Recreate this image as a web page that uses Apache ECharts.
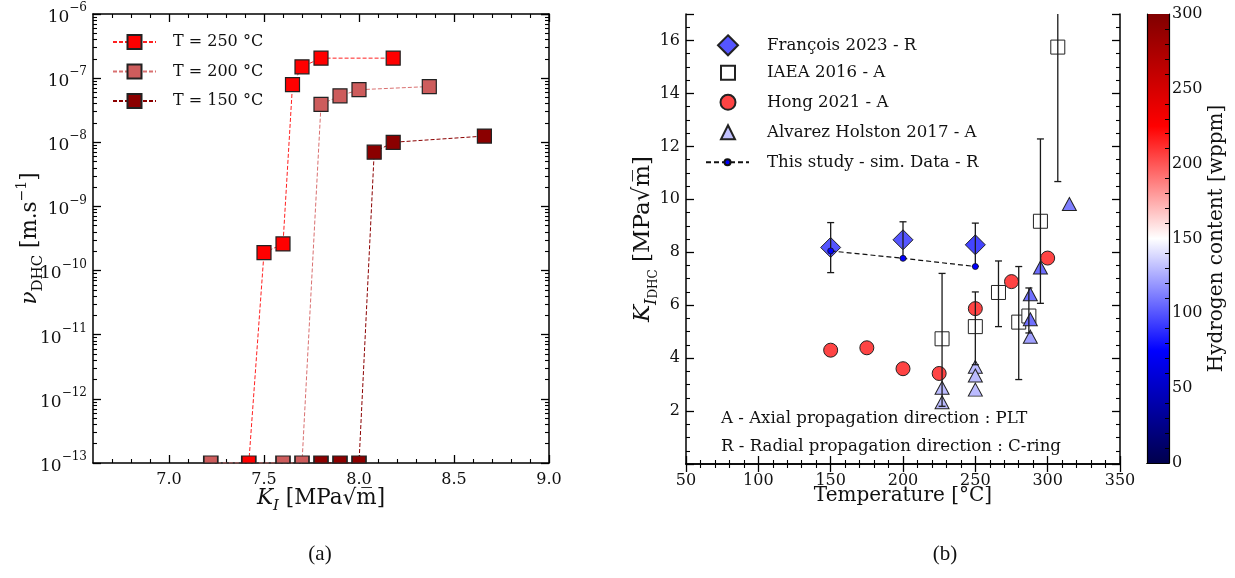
<!DOCTYPE html>
<html><head><meta charset="utf-8">
<script src="https://cdn.jsdelivr.net/npm/echarts@6/dist/echarts.min.js"></script>
<style>html,body{margin:0;padding:0;background:#fff}#c{width:1235px;height:578px}</style>
</head><body><div id="c"></div>
<script>
// ---------- Panel (a): crack velocity vs K_I ----------
const k250 = [7.42, 7.50, 7.60, 7.65, 7.70, 7.80, 8.18];
const v250 = [1e-13, 1.9e-10, 2.6e-10, 7.9e-8, 1.5e-7, 2.05e-7, 2.05e-7];
const k200 = [7.22, 7.60, 7.70, 7.80, 7.90, 8.00, 8.37];
const v200 = [1e-13, 1e-13, 1e-13, 3.9e-8, 5.3e-8, 6.6e-8, 7.4e-8];
const k150 = [7.80, 7.90, 8.00, 8.08, 8.18, 8.66];
const v150 = [1e-13, 1e-13, 1e-13, 7.0e-9, 1.0e-8, 1.25e-8];
const seriesNamesA = ['T = 250 °C', 'T = 200 °C', 'T = 150 °C'];
const kTicks = [7.0, 7.5, 8.0, 8.5, 9.0];
const vFloor = 1e-13;

// ---------- Panel (b): K_IDHC vs temperature ----------
const fT = [150, 200, 250];
const fK = [8.18, 8.47, 8.28];
const fLo = [7.23, 7.78, 7.47];
const fHi = [9.12, 9.15, 9.10];
const fH = [100, 100, 95];

const iT = [227, 250, 266, 280, 287, 295, 307];
const iK = [4.73, 5.19, 6.48, 5.36, 5.59, 9.17, 15.75];
const iLo = [2.18, 3.75, 5.19, 3.19, 4.95, 6.07, 10.67];
const iHi = [7.20, 6.50, 7.67, 7.46, 6.65, 12.28, 18.0];

const hT = [150, 175, 200, 225, 250, 275, 300];
const hK = [4.30, 4.39, 3.60, 3.42, 5.87, 6.89, 7.78];
const hH = [205, 205, 205, 205, 205, 205, 205];

const aT = [227, 227, 250, 250, 250, 288, 288, 288, 295, 315];
const aK = [2.88, 2.33, 3.67, 3.34, 2.81, 6.41, 5.47, 4.81, 7.42, 9.82];
const aH = [130, 130, 130, 130, 130, 108, 108, 122, 107, 112];

const sT = [150, 200, 250];
const sK = [8.05, 7.77, 7.46];

const seriesNamesB = ['François 2023 - R', 'IAEA 2016 - A', 'Hong 2021 - A', 'Alvarez Holston 2017 - A', 'This study - sim. Data - R'];
const legendH = [100, null, 205, 132];
const cbMax = 300;
const yMaxB = 17;

// ---------- helpers ----------
function seismic(v) {
  const t = Math.max(0, Math.min(1, v / cbMax));
  let r, g, b;
  if (t < 0.25) { r = 0; g = 0; b = 0.3 + 0.7 * t / 0.25; }
  else if (t < 0.5) { const s = (t - 0.25) / 0.25; r = s; g = s; b = 1; }
  else if (t < 0.75) { const s = (t - 0.5) / 0.25; r = 1; g = 1 - s; b = 1 - s; }
  else { const s = (t - 0.75) / 0.25; r = 1 - 0.5 * s; g = 0; b = 0; }
  return 'rgb(' + Math.round(r * 255) + ',' + Math.round(g * 255) + ',' + Math.round(b * 255) + ')';
}
const FONT = 'DejaVu Serif';
const INK = '#111';
const lineAx = { show: true, lineStyle: { color: '#000', width: 1.5 } };

function lineSeriesA(name, ks, vs, color, lineColor) {
  return {
    name, type: 'line', xAxisIndex: 0, yAxisIndex: 0, symbol: 'rect', symbolSize: 14,
    lineStyle: { type: [4, 2], width: 1, color: lineColor },
    itemStyle: { color, borderColor: '#222', borderWidth: 1.2 },
    data: ks.map((k, i) => vs[i] === vFloor
      ? { value: [k, vs[i]], symbolSize: [14, 7], symbolOffset: [0, -3.5] }
      : { value: [k, vs[i]] }),
    z: 3
  };
}
function errSeries(T, lo, hi) {
  return {
    type: 'custom', xAxisIndex: 4, yAxisIndex: 4, silent: true, z: 5,
    encode: { x: 0, y: [1, 2] },
    data: T.map((t, i) => [t, lo[i], hi[i]]),
    renderItem: function (params, api) {
      const x = api.value(0), l = api.value(1), h = api.value(2);
      const top = api.coord([x, Math.min(h, yMaxB)]);
      const bot = api.coord([x, l]);
      const hw = 3.5;
      const style = { stroke: '#1a1a1a', lineWidth: 1.3 };
      const ch = [
        { type: 'line', shape: { x1: top[0], y1: top[1], x2: bot[0], y2: bot[1] }, style },
        { type: 'line', shape: { x1: bot[0] - hw, y1: bot[1], x2: bot[0] + hw, y2: bot[1] }, style }
      ];
      if (h <= yMaxB) ch.push({ type: 'line', shape: { x1: top[0] - hw, y1: top[1], x2: top[0] + hw, y2: top[1] }, style });
      return { type: 'group', children: ch };
    }
  };
}
function scatterB(name, T, K, H, symbol, size, legendColor, fixedColor) {
  return {
    name, type: 'scatter', xAxisIndex: 4, yAxisIndex: 4, symbol, symbolSize: size,
    itemStyle: { color: legendColor, borderColor: '#222', borderWidth: 1, opacity: 1 },
    data: T.map((t, i) => ({ value: [t, K[i]], itemStyle: { color: fixedColor || seismic(H[i]) } })),
    z: 3
  };
}
function legendB(name, size, iconW, centerY) {
  // icon centred at x = 727, text starting at x = 766
  const left = 727 - iconW / 2;
  const pad = 766 - (left + iconW + 5);
  return { data: [name], left, top: centerY - 10, itemWidth: iconW, itemHeight: size, padding: 0,
    textStyle: { fontSize: 16.6, lineHeight: 20, padding: [0, 0, 0, pad], color: INK, fontFamily: FONT } };
}

// minor tick positions
const kMinor = [];
for (let i = 67; i < 90; i++) if (i % 5 !== 0) kMinor.push(i / 10);
const logMinor = [];
for (let n = -13; n < -6; n++) for (let k = 2; k <= 9; k++) logMinor.push(n + Math.log10(k));

function richSet(base) {
  const lh = Math.round(base * 1.45);
  return {
    i: { fontStyle: 'italic', fontSize: base, lineHeight: lh, fontFamily: FONT, color: INK },
    sub: { fontStyle: 'italic', fontSize: base * 0.7, lineHeight: base * 0.8, verticalAlign: 'bottom', fontFamily: FONT, color: INK },
    subu: { fontSize: base * 0.7, lineHeight: base * 0.8, verticalAlign: 'bottom', fontFamily: FONT, color: INK },
    s2: { fontSize: base * 0.52, lineHeight: base * 0.38, verticalAlign: 'bottom', fontFamily: FONT, color: INK },
    sup: { fontSize: base * 0.65, lineHeight: base * 0.7, verticalAlign: 'top', fontFamily: FONT, color: INK },
    n: { fontSize: base, lineHeight: lh, fontFamily: FONT, color: INK }
  };
}
const SQRT_M = '√m\u0305';

const option = {
  animation: false,
  backgroundColor: '#fff',
  textStyle: { fontFamily: FONT, color: INK },
  grid: [
    { left: 93, top: 14, width: 456, height: 449, outerBoundsMode: 'none' },
    { left: 686, top: 14, width: 434, height: 450, outerBoundsMode: 'none' },
    { left: 1147, top: 14, width: 22, height: 449, outerBoundsMode: 'none' }
  ],
  xAxis: [
    { gridIndex: 0, type: 'value', min: 6.6, max: 9.0, position: 'bottom', axisLine: lineAx,
      axisTick: { inside: true, length: 8, customValues: kTicks, lineStyle: { color: '#000', width: 1.3 } },
      axisLabel: { customValues: kTicks, formatter: v => v.toFixed(1), fontSize: 16, color: INK, margin: 9 },
      splitLine: { show: false },
      name: '{i|K}{sub|I}{n| [MPa' + SQRT_M + ']}', nameLocation: 'middle', nameGap: 20, nameMoveOverlap: false,
      nameTextStyle: { fontSize: 21.5, rich: richSet(21.5) } },
    { gridIndex: 0, type: 'value', min: 6.6, max: 9.0, position: 'top', axisLine: lineAx,
      axisTick: { inside: true, length: 8, customValues: kTicks, lineStyle: { color: '#000', width: 1.3 } },
      axisLabel: { show: false }, splitLine: { show: false } },
    { gridIndex: 0, type: 'value', min: 6.6, max: 9.0, position: 'bottom', axisLine: { show: false },
      axisTick: { inside: true, length: 4, customValues: kMinor, lineStyle: { color: '#000', width: 1.1 } },
      axisLabel: { show: false }, splitLine: { show: false } },
    { gridIndex: 0, type: 'value', min: 6.6, max: 9.0, position: 'top', axisLine: { show: false },
      axisTick: { inside: true, length: 4, customValues: kMinor, lineStyle: { color: '#000', width: 1.1 } },
      axisLabel: { show: false }, splitLine: { show: false } },
    // panel b
    { gridIndex: 1, type: 'value', min: 50, max: 350, interval: 50, position: 'bottom', axisLine: lineAx,
      axisTick: { inside: true, length: 8, lineStyle: { color: '#000', width: 1.3 } },
      minorTick: { show: true, splitNumber: 5, length: 4, lineStyle: { color: '#000', width: 1.1 } },
      axisLabel: { fontSize: 16, color: INK, margin: 9 }, splitLine: { show: false },
      name: 'Temperature [°C]', nameLocation: 'middle', nameGap: 22, nameMoveOverlap: false,
      nameTextStyle: { fontSize: 20, color: INK } },
    { gridIndex: 1, type: 'value', min: 50, max: 350, interval: 50, position: 'top', axisLine: lineAx,
      axisTick: { inside: true, length: 8, lineStyle: { color: '#000', width: 1.3 } },
      minorTick: { show: true, splitNumber: 5, length: 4, lineStyle: { color: '#000', width: 1.1 } },
      axisLabel: { show: false }, splitLine: { show: false } },
    // colorbar
    { gridIndex: 2, type: 'category', data: [''], position: 'bottom', z: 10, axisLine: { show: true, lineStyle: { color: '#000', width: 1.2 } },
      axisTick: { show: false }, axisLabel: { show: false } },
    { gridIndex: 2, type: 'category', data: [''], position: 'top', z: 10, axisLine: { show: true, lineStyle: { color: '#000', width: 1.2 } },
      axisTick: { show: false }, axisLabel: { show: false } }
  ],
  yAxis: [
    { gridIndex: 0, type: 'log', logBase: 10, min: 1e-13, max: 1e-6, splitNumber: 7, position: 'left', axisLine: lineAx,
      axisTick: { inside: true, length: 8, lineStyle: { color: '#000', width: 1.3 } },
      axisLabel: { fontSize: 16, color: INK, margin: 6,
        formatter: v => { const e = Math.round(Math.log10(v)); return '{b|10}{p|' + (e < 0 ? '−' : '') + Math.abs(e) + '}'; },
        rich: { b: { fontSize: 17, lineHeight: 24, verticalAlign: 'bottom', fontFamily: FONT, color: INK },
                p: { fontSize: 12, lineHeight: 15, verticalAlign: 'top', fontFamily: FONT, color: INK } } },
      splitLine: { show: false },
      name: '{i|ν}{subu|DHC}{n| [m.s}{sup|−1}{n|]}', nameLocation: 'middle', nameGap: 47, nameRotate: 90, nameMoveOverlap: false,
      nameTextStyle: { fontSize: 21.5, rich: richSet(21.5) } },
    { gridIndex: 0, type: 'log', logBase: 10, min: 1e-13, max: 1e-6, splitNumber: 7, position: 'right', axisLine: lineAx,
      axisTick: { inside: true, length: 8, lineStyle: { color: '#000', width: 1.3 } },
      axisLabel: { show: false }, splitLine: { show: false } },
    { gridIndex: 0, type: 'value', min: -13, max: -6, position: 'left', axisLine: { show: false },
      axisTick: { inside: true, length: 4, customValues: logMinor, lineStyle: { color: '#000', width: 1.1 } },
      axisLabel: { show: false }, splitLine: { show: false } },
    { gridIndex: 0, type: 'value', min: -13, max: -6, position: 'right', axisLine: { show: false },
      axisTick: { inside: true, length: 4, customValues: logMinor, lineStyle: { color: '#000', width: 1.1 } },
      axisLabel: { show: false }, splitLine: { show: false } },
    // panel b
    { gridIndex: 1, type: 'value', min: 0, max: yMaxB, interval: 2, position: 'left', axisLine: lineAx,
      axisTick: { inside: true, length: 8, lineStyle: { color: '#000', width: 1.3 } },
      minorTick: { show: true, splitNumber: 4, length: 4, lineStyle: { color: '#000', width: 1.1 } },
      axisLabel: { fontSize: 16, color: INK, margin: 6, showMinLabel: false, showMaxLabel: false },
      splitLine: { show: false },
      name: '{i|K}{sub|I}{s2|DHC}{n| [MPa' + SQRT_M + ']}', nameLocation: 'middle', nameGap: 26, nameRotate: 90, nameMoveOverlap: false,
      nameTextStyle: { fontSize: 23, rich: richSet(23) } },
    { gridIndex: 1, type: 'value', min: 0, max: yMaxB, interval: 2, position: 'right', axisLine: lineAx,
      axisTick: { inside: true, length: 8, lineStyle: { color: '#000', width: 1.3 } },
      minorTick: { show: true, splitNumber: 4, length: 4, lineStyle: { color: '#000', width: 1.1 } },
      axisLabel: { show: false }, splitLine: { show: false } },
    // colorbar
    { gridIndex: 2, type: 'value', min: 0, max: cbMax, interval: 50, position: 'right', z: 10,
      axisLine: { show: true, lineStyle: { color: '#000', width: 1.2 } },
      axisTick: { inside: true, length: 7, lineStyle: { color: '#000', width: 1.2 } },
      minorTick: { show: true, splitNumber: 5, length: 4, lineStyle: { color: '#000', width: 1 } },
      axisLabel: { fontSize: 16, color: INK, margin: 3 }, splitLine: { show: false },
      name: 'Hydrogen content [wppm]', nameLocation: 'middle', nameGap: 38, nameRotate: 90, nameMoveOverlap: false,
      nameTextStyle: { fontSize: 20, color: INK } },
    { gridIndex: 2, type: 'value', min: 0, max: cbMax, position: 'left', z: 10,
      axisLine: { show: true, lineStyle: { color: '#000', width: 1.2 } },
      axisTick: { show: false }, axisLabel: { show: false }, splitLine: { show: false } }
  ],
  legend: [
    { data: seriesNamesA, orient: 'vertical', left: 112, top: 32, itemWidth: 43, itemHeight: 17.5, itemGap: 9.5, padding: 0,
      textStyle: { fontSize: 16, lineHeight: 20, padding: [0, 0, 0, 12], color: INK, fontFamily: FONT } },
    legendB(seriesNamesB[0], 20, 20, 44.3),
    legendB(seriesNamesB[1], 14, 14, 72.7),
    legendB(seriesNamesB[2], 15, 15, 102.3),
    legendB(seriesNamesB[3], 14, 14, 132.3),
    { data: [seriesNamesB[4]], left: 705, top: 152.3, itemWidth: 43, itemHeight: 7.5, padding: 0,
      textStyle: { fontSize: 16.6, lineHeight: 20, padding: [0, 0, 0, 13], color: INK, fontFamily: FONT } }
  ],
  series: [
    lineSeriesA(seriesNamesA[2], k150, v150, '#8b0000', '#8b0000'),
    lineSeriesA(seriesNamesA[1], k200, v200, '#cd5c5c', '#d97070'),
    lineSeriesA(seriesNamesA[0], k250, v250, '#ff0000', '#ff2020'),
    scatterB(seriesNamesB[2], hT, hK, hH, 'circle', 14, seismic(legendH[2])),
    scatterB(seriesNamesB[1], iT, iK, null, 'rect', 14, '#ffffff', '#ffffff'),
    scatterB(seriesNamesB[3], aT, aK, aH, 'triangle', [14, 13], seismic(legendH[3])),
    scatterB(seriesNamesB[0], fT, fK, fH, 'diamond', 20, seismic(legendH[0])),
    errSeries(iT, iLo, iHi),
    errSeries(fT, fLo, fHi),
    { name: seriesNamesB[4], type: 'line', xAxisIndex: 4, yAxisIndex: 4, symbol: 'circle', symbolSize: 6, z: 6,
      lineStyle: { type: [5, 3], width: 1.2, color: '#111' },
      itemStyle: { color: '#0000ff', borderColor: '#111', borderWidth: 0.8 },
      data: sT.map((t, i) => [t, sK[i]]) },
    { type: 'bar', xAxisIndex: 6, yAxisIndex: 6, barWidth: '100%', silent: true, z: 1,
      itemStyle: { color: { type: 'linear', x: 0, y: 1, x2: 0, y2: 0, colorStops: [
        { offset: 0, color: seismic(0) }, { offset: 0.25, color: seismic(cbMax * 0.25) },
        { offset: 0.5, color: seismic(cbMax * 0.5) }, { offset: 0.75, color: seismic(cbMax * 0.75) },
        { offset: 1, color: seismic(cbMax) } ] } },
      data: [cbMax] }
  ],
  graphic: [
    { type: 'text', x: 721, y: 419, style: { text: 'A - Axial propagation direction : PLT', font: '16.6px "DejaVu Serif"', fill: INK, verticalAlign: 'middle' } },
    { type: 'text', x: 721, y: 447, style: { text: 'R - Radial propagation direction : C-ring', font: '16.6px "DejaVu Serif"', fill: INK, verticalAlign: 'middle' } },
    { type: 'text', x: 320, y: 554, style: { text: '(a)', font: '21px "Liberation Serif"', fill: INK, align: 'center', verticalAlign: 'middle' } },
    { type: 'text', x: 945, y: 554, style: { text: '(b)', font: '21px "Liberation Serif"', fill: INK, align: 'center', verticalAlign: 'middle' } }
  ]
};
const chart = echarts.init(document.getElementById('c'), null, { renderer: 'canvas' });
chart.setOption(option);
</script></body></html>
